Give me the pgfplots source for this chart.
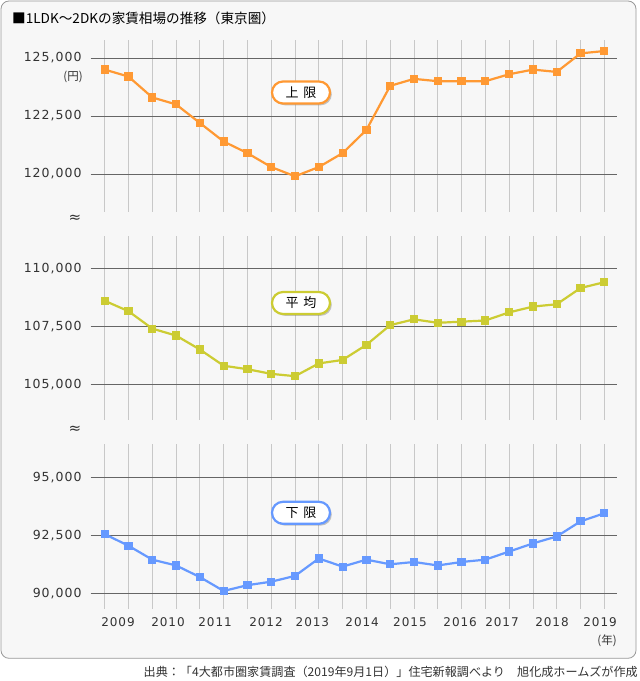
\documentclass[border=0pt]{standalone}
\usepackage{fontspec}
\setmainfont{Noto Sans CJK JP}
\newfontfamily\tickfont{DejaVu Sans}[LetterSpace=8]
\newfontfamily\symfont{DejaVu Sans}
\usepackage{pgfplots}
\pgfplotsset{compat=1.18}
\usetikzlibrary{shadows}
\definecolor{upperC}{HTML}{FF9933}
\definecolor{avgC}{HTML}{CCCC33}
\definecolor{lowerC}{HTML}{6699FF}
\definecolor{vgrid}{HTML}{C8C8C8}
\definecolor{hgrid}{HTML}{666666}
\definecolor{txt}{HTML}{333333}
\definecolor{panelbg}{HTML}{F7F7F7}
\definecolor{frameC}{HTML}{999999}

\pgfplotsset{
  panel/.style={
    scale only axis, width=526pt,
    xmin=-0.588, xmax=21.52,
    xtick={0,...,21}, xticklabels={},
    axis line style={draw=none,-}, tick style={draw=none},
    xmajorgrids, ymajorgrids,
    x grid style={color=vgrid, line width=0.8pt},
    y grid style={color=hgrid, line width=0.9pt},
    scaled y ticks=false,
    yticklabel style={font=\tickfont\fontsize{12.5}{14}\selectfont, text=txt,
      anchor=east, inner sep=0pt, xshift=-9pt,
      /pgf/number format/fixed, /pgf/number format/1000 sep={,},
      /pgf/number format/assume math mode=true},
    clip=false,
  },
  series/.style={color=#1, line width=2.2pt, mark=square*, mark size=3.6pt,
    mark options={fill=#1, draw=#1, line width=0pt}},
}
\tikzset{pill/.style={draw=#1, line width=2.2pt, fill=white, rounded corners=11pt,
  minimum width=58pt, minimum height=22pt, inner sep=0pt, text=black,
  font=\fontsize{13}{15}\selectfont,
  drop shadow={shadow xshift=1.8pt, shadow yshift=-1.8pt, opacity=0.45}}}

\begin{document}
\begin{tikzpicture}[x=1pt,y=1pt]
\path[use as bounding box, fill=white] (0,0) rectangle (640,681);
\draw[frameC, fill=panelbg, line width=0.8pt, rounded corners=8pt] (1,680) rectangle (636,22.7);

% upper
\begin{axis}[panel, at={(90.7pt,469.3pt)}, anchor=south west, height=171.7pt,
  ymin=118375, ymax=125776, ytick={120000,122500,125000}]
\addplot[series=upperC] coordinates {
(0,124500) (1,124200) (2,123300) (3,123000) (4,122200) (5,121400) (6,120900)
(7,120300) (8,119900) (9,120300) (10,120900) (11,121900) (12,123800) (13,124100)
(14,124000) (15,124000) (16,124000) (17,124300) (18,124500) (19,124400)
(20,125200) (21,125300)};
\end{axis}

% average
\begin{axis}[panel, at={(90.7pt,261pt)}, anchor=south west, height=184pt,
  ymin=103461, ymax=111392, ytick={105000,107500,110000}]
\addplot[series=avgC] coordinates {
(0,108600) (1,108150) (2,107400) (3,107100) (4,106500) (5,105800) (6,105650)
(7,105450) (8,105350) (9,105900) (10,106050) (11,106700) (12,107550) (13,107800)
(14,107650) (15,107700) (16,107750) (17,108100) (18,108350) (19,108450)
(20,109150) (21,109400)};
\end{axis}

% lower
\begin{axis}[panel, at={(90.7pt,72pt)}, anchor=south west, height=165pt,
  ymin=89323, ymax=96435, ytick={90000,92500,95000},
  extra x ticks={0.56,2.66,4.64,6.78,8.73,10.82,12.83,14.94,16.70,18.80,20.82},
  extra x tick labels={2009,2010,2011,2012,2013,2014,2015,2016,2017,2018,2019},
  extra x tick style={grid=none, tick style={draw=none},
    xticklabel style={font=\tickfont\fontsize{12}{14}\selectfont, text=txt,
      anchor=north, inner sep=0pt, yshift=-8.6pt}}]
\addplot[series=lowerC] coordinates {
(0,92550) (1,92050) (2,91450) (3,91200) (4,90700) (5,90100) (6,90350)
(7,90500) (8,90750) (9,91500) (10,91150) (11,91450) (12,91250) (13,91350)
(14,91200) (15,91350) (16,91450) (17,91800) (18,92150) (19,92450)
(20,93100) (21,93450)};
\end{axis}

\node[anchor=west, inner sep=0pt, font=\fontsize{13.6}{15}\selectfont, text=black] at (12,662.7) {■1LDK～2DKの家賃相場の推移（東京圏）};
\node[inner sep=0pt, font=\fontsize{11.5}{13}\selectfont, text=txt] at (73,603.7) {(円)};
\node[inner sep=0pt, font=\fontsize{11.5}{13}\selectfont, text=txt] at (607,40.3) {(年)};
\node[inner sep=0pt, font=\symfont\fontsize{15}{16}\selectfont, text=txt] at (75,462.7) {≈};
\node[inner sep=0pt, font=\symfont\fontsize{15}{16}\selectfont, text=txt] at (75,251) {≈};
\node[pill=upperC] at (301,588.5) {上\hspace{5pt}限};
\node[pill=avgC] at (301,378) {平\hspace{5pt}均};
\node[pill=lowerC] at (301,168.2) {下\hspace{5pt}限};
\node[anchor=east, inner sep=0pt, font=\fontsize{12.1}{14}\selectfont, text=txt] at (638,9.3) {出典：「4大都市圏家賃調査（2019年9月1日）」住宅新報調べより　旭化成ホームズが作成};
\end{tikzpicture}
\end{document}
